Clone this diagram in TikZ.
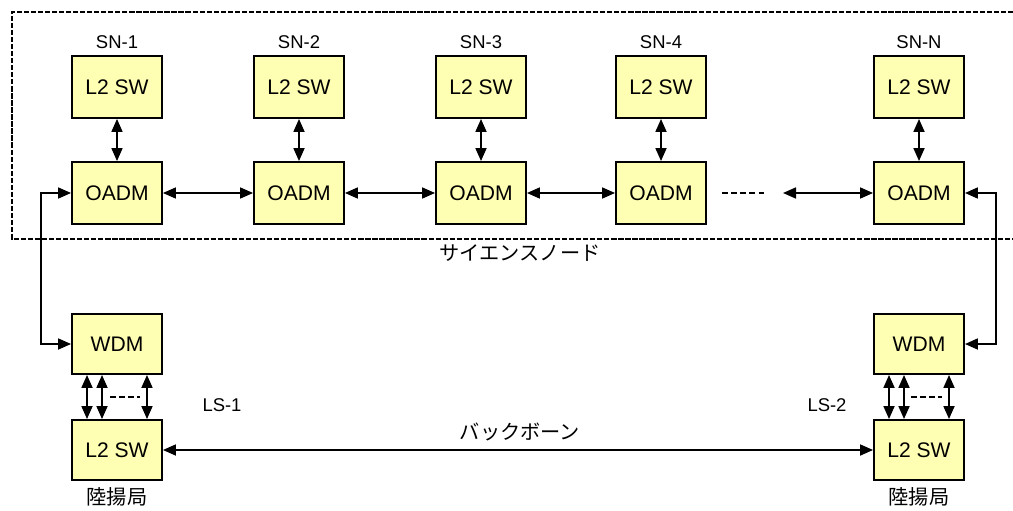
\documentclass[tikz,border=0pt]{standalone}
\usepackage{fontspec}
\setmainfont{Liberation Sans}
\newfontfamily\jpfont{Noto Sans CJK JP}
\usepackage{tikz}
\usetikzlibrary{positioning}
\usetikzlibrary{arrows.meta}
\definecolor{boxyellow}{RGB}{255,255,180}
\tikzset{
    swbox/.style = {rectangle, line width=1.1pt, draw=black, minimum width=1.8cm, minimum height=1.24cm, fill=boxyellow, font=\fontsize{12}{14}\selectfont},
    lsbox/.style = {swbox, minimum height=1.2cm},
    tag/.style = {font=\fontsize{10.5}{12}\selectfont},
    jtag/.style = {font=\jpfont\fontsize{11.5}{13}\selectfont},
    edgen/.style = {{Triangle[length=2.6mm,width=2.2mm]}-{Triangle[length=2.6mm,width=2.2mm]},line width=1pt},
    dots/.style = {line width=0.8pt,dash pattern=on 3.2pt off 2pt},
    frame/.style = {line width=0.8pt,dash pattern=on 3pt off 1pt}
}
\begin{document}
\begin{tikzpicture}[x=0.02cm,y=-0.02cm]
\useasboundingbox (0,0) rectangle (1013,510);
%
\draw[frame] (1013,12) -- (12,12) -- (12,239) -- (1013,239);
%
\node[swbox] at (117,87) (sw1) {L2 SW};
\node[swbox] at (299,87) (sw2) {L2 SW};
\node[swbox] at (481,87) (sw3) {L2 SW};
\node[swbox] at (661,87) (sw4) {L2 SW};
\node[swbox] at (919,87) (swn) {L2 SW};
\node[swbox] at (117,193) (oadm1) {OADM};
\node[swbox] at (299,193) (oadm2) {OADM};
\node[swbox] at (481,193) (oadm3) {OADM};
\node[swbox] at (661,193) (oadm4) {OADM};
\node[swbox] at (919,193) (oadmn) {OADM};
%
\node[tag] at (117,42) (sn1) {SN-1};
\node[tag] at (299,42) (sn2) {SN-2};
\node[tag] at (481,42) (sn3) {SN-3};
\node[tag] at (661,42) (sn4) {SN-4};
\node[tag] at (919,42) (snn) {SN-N};
\node[jtag] at (520,253) (scn) {サイエンスノード};
%
\node[lsbox] at (117,344) (wdm1) {WDM};
\node[lsbox] at (919,344) (wdm2) {WDM};
\node[lsbox] at (117,450) (lsw1) {L2 SW};
\node[lsbox] at (919,450) (lsw2) {L2 SW};
\node[tag] at (222,405) (ls1) {LS-1};
\node[tag] at (827,405) (ls2) {LS-2};
\node[jtag] at (117,497) (rk1) {陸揚局};
\node[jtag] at (919,497) (rk2) {陸揚局};
\node[jtag] at (520,432) (bb) {バックボーン};
%
\foreach \s/\o in {sw1/oadm1,sw2/oadm2,sw3/oadm3,sw4/oadm4,swn/oadmn}
    \draw[edgen] (\s) -- (\o);
\draw[edgen] (oadm1) -- (oadm2);
\draw[edgen] (oadm2) -- (oadm3);
\draw[edgen] (oadm3) -- (oadm4);
\coordinate (gapend) at (783,193);
\draw[edgen] (gapend) -- (oadmn);
\draw[dots] (722,193) -- (765,193);
%
\draw[edgen] (oadm1.west) -- ++(-30,0) |- (wdm1.west);
\draw[edgen] (oadmn.east) -- ++(31,0) |- (wdm2.east);
%
\foreach \d in {-0.6cm,-0.3cm,0.6cm} {
    \draw[edgen] ([xshift=\d]wdm1.south) -- ([xshift=\d]lsw1.north);
    \draw[edgen] ([xshift=\d]wdm2.south) -- ([xshift=\d]lsw2.north);
}
\draw[dots] (110,397) -- (140,397);
\draw[dots] (911,397) -- (942,397);
%
\draw[edgen] (lsw1) -- (lsw2);

\end{tikzpicture}
\end{document}
